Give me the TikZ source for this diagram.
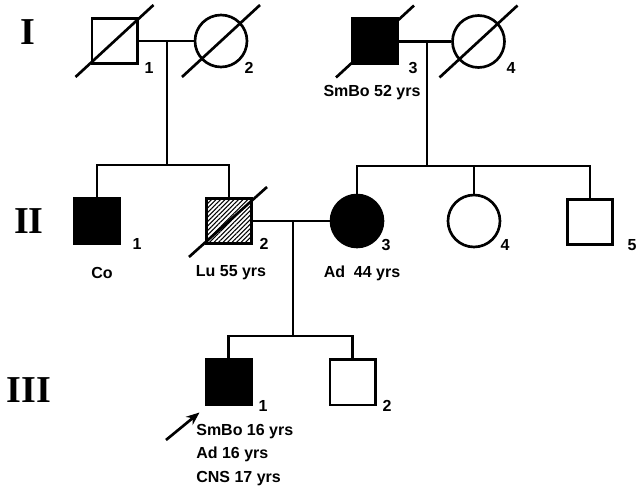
\documentclass[tikz,border=0pt]{standalone}
\usepackage{fontspec}
\setmainfont{Liberation Sans}
\newfontfamily\romanfont{Liberation Serif}
\usetikzlibrary{patterns,patterns.meta,arrows.meta,calc}
\begin{document}
\begin{tikzpicture}[x=0.75pt,y=-0.75pt,line width=2pt,
  male/.style={draw, rectangle, minimum size=34pt, inner sep=0pt},
  female/.style={draw, circle, minimum size=39pt, inner sep=0pt},
  aff/.style={fill=black},
  hatch/.style={pattern={Lines[angle=45,distance=2.4pt,line width=0.8pt]}},
  num/.style={font=\bfseries\fontsize{12}{14}\selectfont, inner sep=0pt},
  gen/.style={font=\romanfont\bfseries\fontsize{28.5}{30}\selectfont, inner sep=0pt},
  slash/.style={line width=2pt}]
\useasboundingbox (0,0) rectangle (636,488);

% generation labels
\node[gen] (gI) at (28,32) {I};
\node[gen] (gII) at (29,221) {II};
\node[gen] (gIII) at (29,390) {III};

% generation I
\node[male] (I1) at (114.5,41) {};
\node[female] (I2) at (221,41) {};
\node[male, aff] (I3) at (375,41.5) {};
\node[female] (I4) at (478.5,41.5) {};
\draw[slash] ([shift={(-39,36)}]I1.center) -- ([shift={(39,-36)}]I1.center);
\draw[slash] ([shift={(-39,36)}]I2.center) -- ([shift={(39,-36)}]I2.center);
\draw[slash] ([shift={(-39,36)}]I3.center) -- ([shift={(39,-36)}]I3.center);
\draw[slash] ([shift={(-39,36)}]I4.center) -- ([shift={(39,-36)}]I4.center);
\node[num] (nI1) at (149,68) {1};
\node[num] (nI2) at (249,68) {2};
\node[num] (nI3) at (413,68) {3};
\node[num] (nI4) at (511,68) {4};
\node[num] (tI3) at (372,93) {SmBo 52 yrs};

% generation II
\node[male, aff] (II1) at (97,221) {};
\node[male, hatch] (II2) at (229,221) {};
\node[female, aff] (II3) at (357,221) {};
\node[female] (II4) at (474,221) {};
\node[male] (II5) at (590,222) {};
\draw[slash] ([shift={(-40,36)}]II2.center) -- ([shift={(38,-34)}]II2.center);
\node[num] (nII1) at (137,244) {1};
\node[num] (nII2) at (264,244) {2};
\node[num] (nII3) at (386,245) {3};
\node[num] (nII4) at (505,245) {4};
\node[num] (nII5) at (632,245) {5};
\node[num] (tII1) at (102,273) {Co};
\node[num] (tII2) at (231,273) {Lu 55 yrs};
\node[num] (tII3) at (362,273) {Ad\ \ 44 yrs};

% generation III
\node[male, aff] (III1) at (228.5,382.5) {};
\node[male] (III2) at (352.5,382.5) {};
\node[num] (nIII1) at (263,406) {1};
\node[num] (nIII2) at (387,406) {2};
\node[num, anchor=north west, align=left, font=\bfseries\fontsize{12}{17.5}\selectfont] (tIII1) at (195,423) {SmBo 16 yrs\\Ad 16 yrs\\CNS 17 yrs};

% couples and descents
\coordinate (m1) at (167,41);
\coordinate (s1) at (167,165);
\draw (I1.east) -- (I2.west);
\draw (m1) -- (s1);
\draw (II1.north) |- (s1) -| (II2.north);

\coordinate (m2) at (427,41.5);
\coordinate (s2) at (427,166);
\draw (I3.east) -- (I4.west);
\draw (m2) -- (s2);
\draw (II3.north) |- (s2) -| (II5.north);
\draw (II4.north) -- (II4.north |- s2);

\coordinate (m3) at (293,221);
\coordinate (s3) at (293,336);
\draw (II2.east) -- (II3.west);
\draw (m3) -- (s3);
\draw (III1.north) |- (s3) -| (III2.north);

% proband arrow
\coordinate (ptail) at (166,440);
\draw[-{Stealth[length=10pt,width=8pt]}] (ptail) -- ([shift={(-5,6)}]III1.south west);
\end{tikzpicture}
\end{document}
